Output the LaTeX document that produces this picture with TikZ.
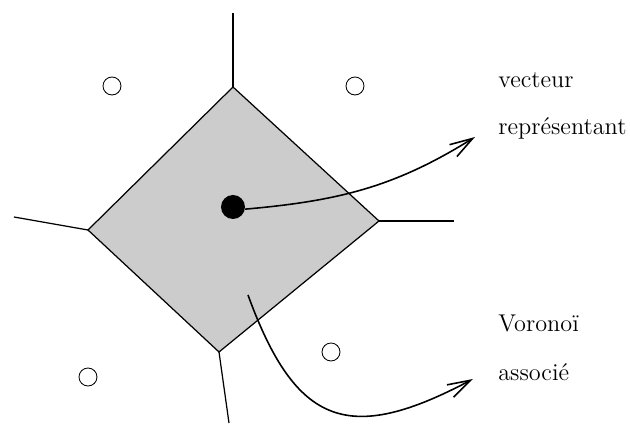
\documentclass[tikz,border=0pt]{standalone}
\usetikzlibrary{arrows.meta}
\begin{document}
\begin{tikzpicture}[x=0.2cm,y=0.2cm,
    edge/.style={line width=0.7pt},
    site/.style={circle,draw,line width=0.5pt,inner sep=0pt,minimum size=0.36cm},
    centre/.style={circle,fill=black,inner sep=0pt,minimum size=0.48cm},
    pointer/.style={line width=0.9pt,-{Straight Barb[length=4.6mm,width=2.8mm]}},
    label/.style={anchor=west,inner sep=0pt,font=\fontsize{13.8}{16}\selectfont}]
    \useasboundingbox (-23.3,20.7) rectangle (39.7,-21.8);

    % Define coordinates
    \coordinate (T) at (0,12);
    \coordinate (R) at (14.6,-1.4);
    \coordinate (B) at (-1.4,-14.5);
    \coordinate (L) at (-14.5,-2.3);
    \coordinate (Tend) at (0,19.4);
    \coordinate (Rend) at (22.1,-1.4);
    \coordinate (Bend) at (-0.4,-21.6);
    \coordinate (Lend) at (-21.9,-1.0);

    % Draw cell
    \fill[black!20] (T) -- (R) -- (B) -- (L) -- cycle;
    \draw[edge] (T) -- (R) -- (B) -- (L) -- cycle;
    \foreach \v in {T,R,B,L} {
        \draw[edge] (\v) -- (\v end);
    }

    % Draw sites
    \node[centre] (c) at (0,0) {};
    \foreach \i/\pos in {1/{(-12.1,12.1)}, 2/{(12.2,12.1)}, 3/{(-14.5,-17.0)}, 4/{(9.8,-14.5)}} {
        \node[site] (s\i) at \pos {};
    }

    % Labels
    \node[label] (vec) at (26.5,12.7) {vecteur};
    \node[label] (rep) at (26.5,7.9) {représentant};
    \node[label] (vor) at (26.5,-11.6) {Voronoï};
    \node[label] (ass) at (26.5,-16.5) {associé};

    % Draw arrows
    \coordinate (tip1) at (24.2,7.0);
    \coordinate (foot) at (1.5,-8.8);
    \coordinate (tip2) at (24.0,-17.2);
    \draw[pointer] (c.-10) to[out=5,in=212] (tip1);
    \draw[pointer] (foot) .. controls (6.3,-21.96) and (11.6,-23.77) .. (tip2);
\end{tikzpicture}
\end{document}
